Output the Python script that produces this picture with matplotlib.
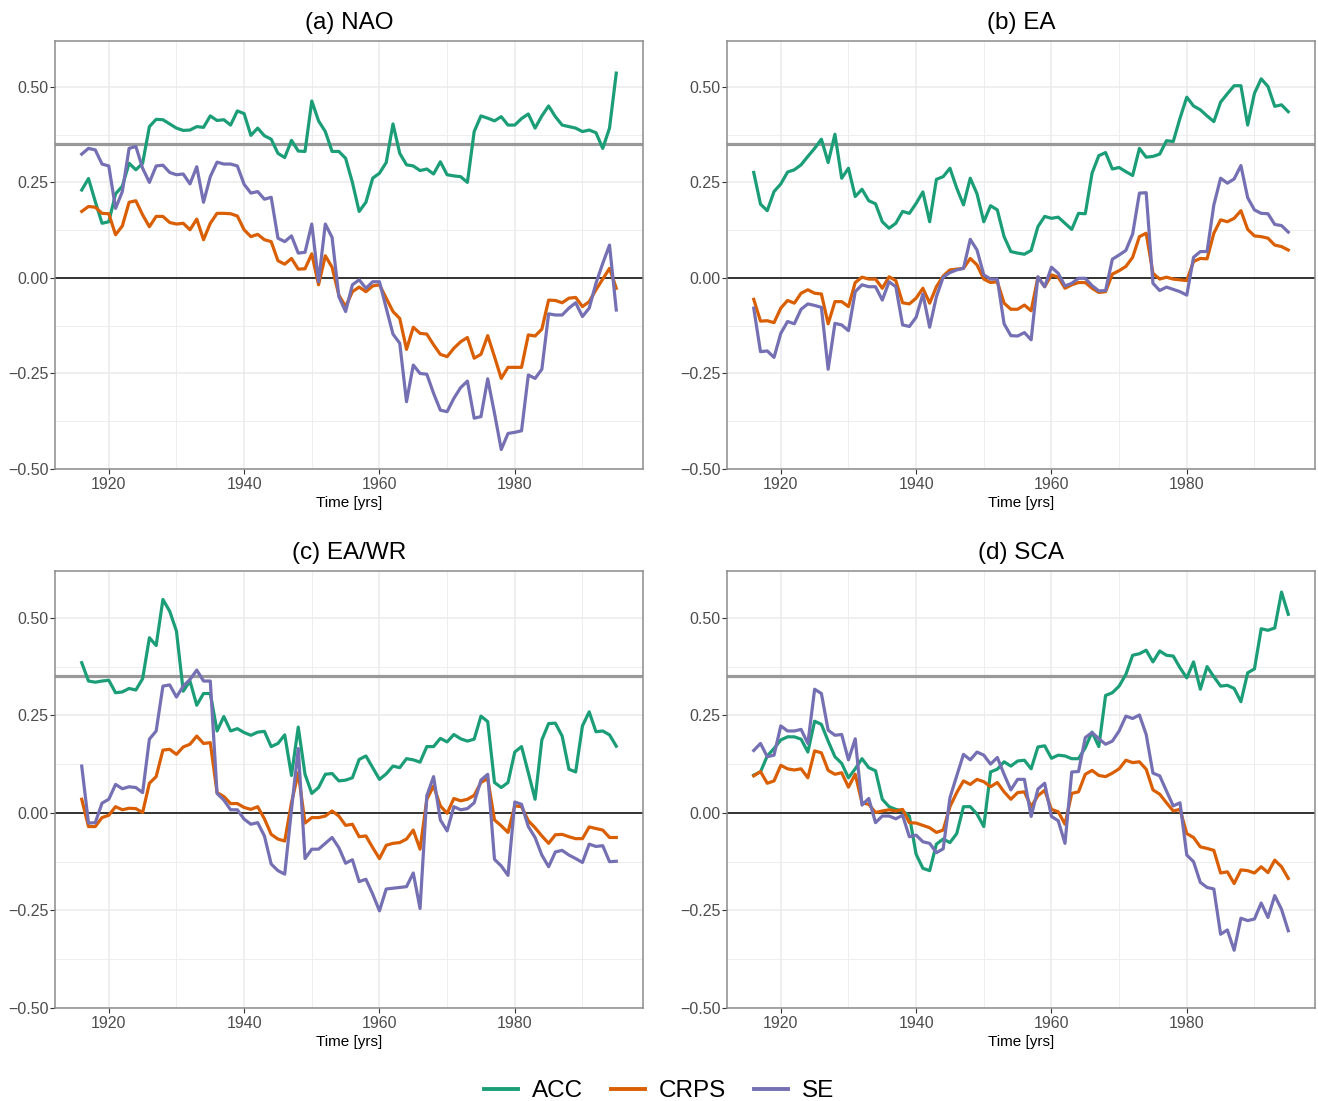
import numpy as np
import matplotlib
matplotlib.use("Agg")
import matplotlib.pyplot as plt
from matplotlib.lines import Line2D
from matplotlib.ticker import FixedLocator

plt.rcParams['font.family'] = ['Liberation Sans', 'DejaVu Sans']

years = np.arange(1916, 1996)

panel_titles = ["(a) NAO", "(b) EA", "(c) EA/WR", "(d) SCA"]
series_names = ["ACC", "CRPS", "SE"]
series_colors = ["#1B9E77", "#D95F02", "#7570B3"]
threshold = 0.35

# ---- NAO ----
nao_acc = [0.23, 0.26, 0.20, 0.143, 0.147, 0.22, 0.24, 0.30, 0.283, 0.30,
           0.396, 0.415, 0.414, 0.403, 0.392, 0.386, 0.387, 0.396, 0.394, 0.424,
           0.412, 0.414, 0.40, 0.437, 0.43, 0.373, 0.392, 0.372, 0.363, 0.326,
           0.315, 0.36, 0.332, 0.331, 0.463, 0.411, 0.383, 0.331, 0.331, 0.313,
           0.25, 0.174, 0.198, 0.261, 0.274, 0.302, 0.403, 0.326, 0.296, 0.293,
           0.281, 0.285, 0.272, 0.304, 0.27, 0.267, 0.265, 0.25, 0.383, 0.424,
           0.418, 0.411, 0.422, 0.40, 0.40, 0.417, 0.429, 0.392, 0.424, 0.45,
           0.422, 0.40, 0.396, 0.392, 0.383, 0.387, 0.38, 0.339, 0.392, 0.536]
nao_crps = [0.174, 0.187, 0.185, 0.169, 0.168, 0.113, 0.136, 0.198, 0.202, 0.165,
            0.134, 0.161, 0.161, 0.145, 0.141, 0.143, 0.126, 0.154, 0.10, 0.143,
            0.169, 0.169, 0.168, 0.162, 0.126, 0.108, 0.114, 0.10, 0.095, 0.045,
            0.036, 0.051, 0.023, 0.024, 0.063, -0.018, 0.058, 0.028, -0.045, -0.075,
            -0.036, -0.024, -0.036, -0.021, -0.018, -0.053, -0.088, -0.106, -0.187, -0.129,
            -0.145, -0.147, -0.175, -0.20, -0.206, -0.184, -0.167, -0.156, -0.21, -0.20,
            -0.151, -0.206, -0.263, -0.234, -0.234, -0.234, -0.149, -0.152, -0.134, -0.058,
            -0.059, -0.065, -0.053, -0.051, -0.075, -0.062, -0.031, -0.003, 0.025, -0.027]
nao_se = [0.324, 0.339, 0.335, 0.298, 0.293, 0.182, 0.226, 0.339, 0.344, 0.287,
          0.25, 0.293, 0.295, 0.276, 0.27, 0.272, 0.246, 0.291, 0.198, 0.265,
          0.303, 0.298, 0.298, 0.293, 0.245, 0.222, 0.226, 0.206, 0.211, 0.104,
          0.095, 0.11, 0.065, 0.067, 0.141, -0.01, 0.141, 0.106, -0.049, -0.088,
          -0.018, -0.005, -0.027, -0.01, -0.01, -0.079, -0.147, -0.171, -0.324, -0.228,
          -0.25, -0.252, -0.302, -0.346, -0.35, -0.315, -0.287, -0.27, -0.367, -0.363,
          -0.264, -0.354, -0.449, -0.407, -0.404, -0.40, -0.254, -0.263, -0.239, -0.094,
          -0.097, -0.097, -0.079, -0.065, -0.101, -0.079, -0.014, 0.038, 0.086, -0.084]

# ---- EA ----
ea_acc = [0.276, 0.193, 0.176, 0.226, 0.246, 0.277, 0.283, 0.296, 0.318, 0.339,
          0.363, 0.302, 0.376, 0.261, 0.287, 0.213, 0.232, 0.202, 0.194, 0.147,
          0.13, 0.143, 0.174, 0.169, 0.195, 0.225, 0.147, 0.258, 0.265, 0.287,
          0.235, 0.191, 0.261, 0.22, 0.147, 0.189, 0.178, 0.108, 0.069, 0.065,
          0.062, 0.072, 0.134, 0.161, 0.156, 0.159, 0.143, 0.127, 0.169, 0.168,
          0.274, 0.32, 0.328, 0.285, 0.289, 0.278, 0.268, 0.339, 0.316, 0.318,
          0.324, 0.359, 0.357, 0.418, 0.473, 0.45, 0.44, 0.424, 0.409, 0.46,
          0.482, 0.503, 0.503, 0.40, 0.483, 0.521, 0.501, 0.449, 0.453, 0.435]
ea_crps = [-0.056, -0.113, -0.112, -0.117, -0.079, -0.059, -0.066, -0.04, -0.031, -0.04,
           -0.042, -0.12, -0.062, -0.062, -0.075, -0.012, 0.002, -0.003, -0.003, -0.027,
           0.003, -0.007, -0.065, -0.068, -0.053, -0.027, -0.066, -0.023, 0.005, 0.021,
           0.023, 0.025, 0.051, 0.034, -0.003, -0.012, -0.01, -0.066, -0.082, -0.082,
           -0.071, -0.086, 0.002, -0.023, 0.008, 0.002, -0.027, -0.018, -0.012, -0.012,
           -0.027, -0.038, -0.036, 0.01, 0.019, 0.03, 0.054, 0.108, 0.117, 0.012,
           -0.003, 0.002, -0.003, -0.005, -0.007, 0.043, 0.051, 0.05, 0.117, 0.152,
           0.147, 0.156, 0.176, 0.127, 0.11, 0.108, 0.104, 0.086, 0.082, 0.073]
ea_se = [-0.079, -0.193, -0.191, -0.208, -0.145, -0.114, -0.12, -0.082, -0.068, -0.072,
         -0.077, -0.239, -0.119, -0.123, -0.138, -0.036, -0.018, -0.023, -0.023, -0.058,
         -0.01, -0.023, -0.123, -0.127, -0.103, -0.042, -0.129, -0.049, 0.002, 0.014,
         0.021, 0.025, 0.101, 0.073, 0.008, -0.003, -0.003, -0.12, -0.151, -0.152,
         -0.143, -0.162, 0.003, -0.023, 0.028, 0.012, -0.021, -0.014, -0.001, -0.001,
         -0.02, -0.034, -0.033, 0.049, 0.06, 0.072, 0.115, 0.222, 0.223, -0.014,
         -0.033, -0.024, -0.03, -0.036, -0.045, 0.054, 0.069, 0.069, 0.191, 0.261,
         0.248, 0.259, 0.294, 0.21, 0.178, 0.169, 0.168, 0.14, 0.137, 0.12]

# ---- EA/WR ----
eawr_acc = [0.385, 0.338, 0.335, 0.338, 0.34, 0.308, 0.31, 0.319, 0.315, 0.344,
            0.449, 0.429, 0.547, 0.517, 0.466, 0.312, 0.338, 0.276, 0.306, 0.306,
            0.21, 0.247, 0.21, 0.216, 0.206, 0.199, 0.207, 0.209, 0.17, 0.178,
            0.20, 0.096, 0.22, 0.099, 0.05, 0.065, 0.099, 0.101, 0.082, 0.084,
            0.09, 0.137, 0.146, 0.116, 0.086, 0.10, 0.12, 0.116, 0.139, 0.136,
            0.13, 0.17, 0.17, 0.191, 0.182, 0.201, 0.19, 0.184, 0.189, 0.248,
            0.234, 0.078, 0.065, 0.078, 0.156, 0.17, 0.103, 0.035, 0.187, 0.229,
            0.23, 0.197, 0.112, 0.105, 0.223, 0.259, 0.208, 0.21, 0.20, 0.171]
eawr_crps = [0.035, -0.035, -0.035, -0.012, -0.006, 0.016, 0.008, 0.012, 0.011, 0.001,
             0.076, 0.093, 0.161, 0.163, 0.15, 0.169, 0.176, 0.197, 0.178, 0.18,
             0.052, 0.042, 0.024, 0.024, 0.014, 0.009, 0.016, -0.015, -0.055, -0.067,
             -0.072, 0.026, 0.103, -0.026, -0.012, -0.012, -0.008, 0.005, -0.008, -0.032,
             -0.029, -0.061, -0.059, -0.089, -0.117, -0.083, -0.078, -0.076, -0.067, -0.044,
             -0.093, 0.035, 0.069, 0.018, -0.001, 0.037, 0.031, 0.035, 0.045, 0.078,
             0.088, -0.018, -0.033, -0.05, 0.018, 0.016, -0.02, -0.038, -0.059, -0.078,
             -0.056, -0.055, -0.061, -0.066, -0.066, -0.036, -0.04, -0.044, -0.063, -0.063]
eawr_se = [0.12, -0.026, -0.025, 0.025, 0.035, 0.073, 0.062, 0.067, 0.065, 0.052,
           0.189, 0.21, 0.325, 0.328, 0.297, 0.325, 0.342, 0.366, 0.338, 0.338,
           0.05, 0.033, 0.008, 0.008, -0.016, -0.029, -0.025, -0.059, -0.131, -0.148,
           -0.157, 0.009, 0.165, -0.117, -0.093, -0.093, -0.078, -0.063, -0.089, -0.129,
           -0.12, -0.176, -0.17, -0.208, -0.251, -0.195, -0.193, -0.191, -0.189, -0.154,
           -0.245, 0.044, 0.093, -0.018, -0.046, 0.016, 0.008, 0.011, 0.026, 0.084,
           0.099, -0.119, -0.136, -0.16, 0.028, 0.022, -0.035, -0.063, -0.108, -0.138,
           -0.10, -0.096, -0.108, -0.117, -0.127, -0.08, -0.086, -0.084, -0.125, -0.124]

# ---- SCA ----
sca_acc = [0.097, 0.105, 0.146, 0.165, 0.187, 0.195, 0.195, 0.189, 0.156, 0.235,
           0.227, 0.184, 0.144, 0.127, 0.09, 0.113, 0.139, 0.116, 0.108, 0.035,
           0.016, 0.009, 0.005, -0.008, -0.106, -0.142, -0.148, -0.08, -0.067, -0.076,
           -0.053, 0.016, 0.016, -0.003, -0.035, 0.105, 0.112, 0.131, 0.12, 0.133,
           0.135, 0.113, 0.169, 0.172, 0.14, 0.148, 0.146, 0.139, 0.139, 0.167,
           0.207, 0.17, 0.301, 0.308, 0.325, 0.355, 0.404, 0.408, 0.417, 0.387,
           0.415, 0.404, 0.402, 0.372, 0.346, 0.387, 0.317, 0.375, 0.349, 0.325,
           0.327, 0.319, 0.285, 0.359, 0.369, 0.472, 0.468, 0.474, 0.566, 0.509]
sca_crps = [0.095, 0.106, 0.076, 0.082, 0.122, 0.113, 0.11, 0.113, 0.09, 0.159,
            0.154, 0.109, 0.099, 0.103, 0.066, 0.099, 0.026, 0.022, 0.001, 0.005,
            0.008, 0.005, 0.009, -0.025, -0.026, -0.032, -0.038, -0.05, -0.044, 0.016,
            0.052, 0.082, 0.073, 0.086, 0.08, 0.067, 0.078, 0.054, 0.035, 0.052,
            0.054, 0.016, 0.044, 0.058, 0.009, 0.003, -0.029, 0.05, 0.054, 0.099,
            0.109, 0.096, 0.093, 0.102, 0.113, 0.135, 0.129, 0.131, 0.112, 0.059,
            0.048, 0.026, 0.005, 0.009, -0.053, -0.063, -0.087, -0.091, -0.096, -0.154,
            -0.151, -0.181, -0.146, -0.148, -0.154, -0.138, -0.153, -0.121, -0.138, -0.168]
sca_se = [0.16, 0.178, 0.144, 0.148, 0.223, 0.21, 0.21, 0.214, 0.178, 0.317,
          0.306, 0.212, 0.199, 0.201, 0.136, 0.19, 0.02, 0.037, -0.025, -0.008,
          -0.008, -0.015, -0.006, -0.061, -0.057, -0.074, -0.078, -0.102, -0.092, 0.039,
          0.095, 0.15, 0.136, 0.156, 0.148, 0.125, 0.142, 0.099, 0.059, 0.086,
          0.086, -0.009, 0.061, 0.076, -0.009, -0.02, -0.078, 0.105, 0.106, 0.193,
          0.206, 0.19, 0.176, 0.184, 0.21, 0.248, 0.242, 0.251, 0.201, 0.102,
          0.095, 0.056, 0.018, 0.026, -0.108, -0.125, -0.178, -0.191, -0.195, -0.311,
          -0.30, -0.352, -0.27, -0.276, -0.272, -0.231, -0.268, -0.212, -0.247, -0.302]

panel_data = [
    (nao_acc, nao_crps, nao_se),
    (ea_acc, ea_crps, ea_se),
    (eawr_acc, eawr_crps, eawr_se),
    (sca_acc, sca_crps, sca_se),
]

W, H = 1318, 1101
fig = plt.figure(figsize=(W / 100, H / 100), dpi=100)
fig.patch.set_facecolor("white")

# panel boxes in pixels: (left, top, right, bottom)
boxes = [(55, 41, 643, 469), (727, 41, 1315, 469),
         (55, 571, 643, 1008), (727, 571, 1315, 1008)]

grid_col = "#EBEBEB"
for i, (title, series) in enumerate(zip(panel_titles, panel_data)):
    l, t, r, b = boxes[i]
    ax = fig.add_axes([l / W, 1 - b / H, (r - l) / W, (b - t) / H])
    ax.set_xlim(1912.05, 1998.95)
    ax.set_ylim(-0.5, 0.62)

    ax.xaxis.set_major_locator(FixedLocator([1920, 1940, 1960, 1980]))
    ax.xaxis.set_minor_locator(FixedLocator([1930, 1950, 1970, 1990]))
    ax.yaxis.set_major_locator(FixedLocator([-0.5, -0.25, 0, 0.25, 0.5]))
    ax.yaxis.set_minor_locator(FixedLocator([-0.375, -0.125, 0.125, 0.375]))
    ax.set_yticklabels(["\u22120.50", "\u22120.25", "0.00", "0.25", "0.50"])

    ax.grid(which="major", color=grid_col, linewidth=1.1, zorder=0)
    ax.grid(which="minor", color=grid_col, linewidth=0.6, zorder=0)
    ax.set_axisbelow(True)
    ax.tick_params(which="major", length=3.5, width=0.8, color="#333333",
                   labelsize=11.5, labelcolor="#4D4D4D", pad=2.5)
    ax.tick_params(axis="y", which="major", pad=1.2)
    ax.tick_params(which="minor", length=0)
    for sp in ax.spines.values():
        sp.set_color("#8C8C8C")
        sp.set_linewidth(1.1)

    ax.axhline(threshold, color="#999999", linewidth=2.3, zorder=1)
    ax.axhline(0.0, color="black", linewidth=1.1, zorder=1)

    for vals, col in zip(series, series_colors):
        ax.plot(years, vals, color=col, linewidth=2.3, zorder=3,
                solid_joinstyle="round")

    ax.set_title(title, fontsize=17.5, pad=8.5, color="black")
    ax.set_xlabel("Time [yrs]", fontsize=11, color="black", labelpad=2.5)

handles = [Line2D([0], [0], color=c, linewidth=2.8) for c in series_colors]
fig.legend(handles, series_names, loc="center", ncol=3, frameon=False,
           bbox_to_anchor=(0.5, 1 - 1091 / H), fontsize=17.5,
           handlelength=1.4, handletextpad=0.58, columnspacing=1.15)

fig.savefig("out.png", dpi=100, facecolor="white")
